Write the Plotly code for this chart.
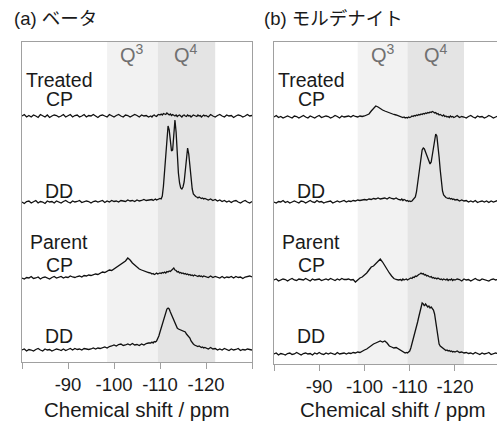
import plotly.graph_objects as go

# ---------------- data ----------------
# chemical-shift sampling grid (ppm): coarse outside the Q4 region, finer inside it
ppm_a = [-80 - 0.5 * i for i in range(56)]     # -80 ... -107.5
ppm_b = [-108 - 0.25 * i for i in range(48)]   # -108 ... -119.75
ppm_c = [-120 - 0.5 * i for i in range(21)]    # -120 ... -130
ppm = ppm_a + ppm_b + ppm_c

tick_values = [-80, -90, -100, -110, -120, -130]
tick_labels = ["", "-90", "-100", "-110", "-120", ""]

q3_range = [-98.5, -109.5]
q4_range = [-109.5, -122.0]

panel_titles = ["(a) ベータ", "(b) モルデナイト"]
trace_names = ["Treated CP", "Treated DD", "Parent CP", "Parent DD"]

# vertical offsets of each spectrum (stacked display units)
offsets_beta = [246, 160, 84, 12]
offsets_mor = [247, 162, 84, 10]

# ----- (a) beta -----
beta_treated_cp = [
    0, 1.5, -1, 0.5, -1, 1, 0, -1.5,
    1.5, 0, -1, 1, -1.5, 0, 1, 0.5,
    -1, 0, 1.5, -1, 0, 1.5, -1, 0.5,
    1, -1, 0, 1.5, -1, 0.5, 0, 1.5,
    0, -1.5, 0.5, 1, 0, -1, 1.5, 0,
    -1, 0.5, 1.5, 0, -1, 1, 0.5, -1,
    0, 1.5, 0.5, -1, 1, 0, 0.5, -1,
    0, -1, 0.5, 1, 0, -0.5, 1, 1.5,
    1, 2, 1, 2.5, 2, 1.5, 3, 2,
    1, 2, 0.5, 1.5, 1, 0, 1, -0.5,
    0.5, 1, 0, -1, 0.5, 1, 0, -0.5,
    1, 0, 0.5, -1, 0, 1, 0.5, 0,
    -0.5, 1, 0, 0.5, -1, 0, 1, 0,
    0.5, -1, 1.5, 0, -1, 0.5, 1.5, 0, -1, 1, 0,
    0.5, -1.5, 0, 1, 0.5, -1, 0, 1.5, 0, 0.5,
]
beta_treated_dd = [
    0, -1.5, 0.5, 1, -1, 0, 1.5, -1,
    0.5, 0, -1.5, 1, 0, 0.5, -1, 1,
    0, -1, 0.5, 1.5, 0, -1, 1, 0,
    0.5, 1.5, -0.5, 0, 1, 0.5, -1, 0.5,
    1, 0, 0.5, 1.5, -0.5, 1, 0, 1.5,
    0.5, 1, 0, 1.5, 1, 0.5, 2, 1,
    1.5, 0.5, 2, 1, 1.5, 2.5, 1.5, 2,
    2, 2.5, 1.5, 2, 3, 2, 2.5, 3,
    3.5, 3, 6, 16, 32, 50, 65, 76,
    72, 62, 51, 52, 72, 82, 70, 48,
    29, 19, 14, 13, 15, 20, 30, 44,
    54, 48, 34, 21, 13, 8, 6, 5.5,
    5, 4, 5, 4.5, 3.5, 4, 3, 3.5,
    3, 2, 3, 1.5, 2.5, 1, 2, 0.5, 1.5, 0, 1,
    -0.5, 1, 1.5, 0, -1, 0.5, 1.5, 0, -1, 0.5,
]
beta_parent_cp = [
    0, -1, 0.5, 0, 1.5, -0.5, 0, 1,
    -1, 0.5, 1, 0, -1, 0.5, 1.5, 0,
    0.5, 1.5, 0, 1, 0.5, 2, 1, 0.5,
    1.5, 2, 1, 2.5, 2, 3, 2.5, 3.5,
    4, 3.5, 5, 6, 5.5, 7, 8, 7.5,
    9, 11, 12, 14, 15, 17, 20, 18,
    15, 13, 11, 9, 8, 7, 6, 5.5,
    5, 4, 4.5, 3.5, 4, 5, 4, 4.5,
    5, 4.5, 5.5, 5, 6, 5, 6.5, 6,
    7, 6.5, 8, 9, 10, 8, 7.5, 6,
    6.5, 5, 5.5, 4.5, 5, 4, 4.5, 3.5,
    4, 3, 3.5, 2.5, 3, 2, 3, 2.5,
    2, 1.5, 2.5, 1.5, 2, 1, 2, 1.5,
    1.5, 0.5, 2, 0.5, 1.5, 1, 0, 1.5, 0, 1, 0.5,
    1.5, 0, 1.5, 0.5, 1, -0.5, 1, 1.5, 2, 1,
]
beta_parent_dd = [
    0, 1, -1, 0.5, 0, -1, 0.5, 1.5,
    0, -1, 1, 0, 0.5, -1, 0, 1,
    0.5, -0.5, 1, -0.5, 0.5, 1.5, 0, 1.5,
    0.5, 1, 0, 1.5, 1, 0.5, 1, 2,
    1, 2, 1.5, 2.5, 3, 2, 3.5, 4,
    5, 4, 5.5, 6, 4.5, 5, 6, 5,
    6.5, 5, 5.5, 4.5, 6, 5, 6.5, 7,
    7, 8, 7, 8.5, 8, 9, 11, 14,
    18, 22, 26, 30, 34, 38, 41, 42,
    41, 38, 35, 33, 30, 27, 24, 22,
    21, 20.5, 20, 20, 19, 18.5, 18, 16,
    14.5, 13, 12, 9, 7, 6, 5, 4.5,
    4, 3.5, 4, 3, 2.5, 3, 2, 2.5,
    2, 1, 2.5, 1, 1.5, 0, 1, 0, 1.5, 0.5, -0.5,
    1, 0, 0.5, 1.5, -0.5, 0.5, 0, 1, 0.5, 0,
]

# ----- (b) mordenite -----
mor_treated_cp = [
    0, 1.5, -0.5, 0.5, -1, 0, 1, 0,
    -1, 1, 0.5, -1, 0, 1.5, 0, -1,
    1, 0, -1, 0.5, 1.5, -0.5, 0, 1,
    0.5, -1, 0, 1.5, 0.5, -1, 1, 0,
    0.5, 1, 0, 1.5, 0.5, 0, 1, 0.5,
    1, 2, 3, 6, 9, 11, 10, 8,
    7, 6, 5, 4, 3.5, 2.5, 2, 1,
    0.5, 0, -0.5, 0, -1, -0.5, -1, 0,
    -0.5, 0, 1, 0.5, 1.5, 1, 2, 1.5,
    2.5, 2, 3, 2.5, 3.5, 3, 4, 3.5,
    4.5, 4, 5, 4.5, 5.5, 5, 4, 4.5,
    3, 3.5, 2, 2.5, 1.5, 1, 2, 0.5,
    1, 0, 0.5, -0.5, 1, 0, 0.5, -0.5,
    0, 1.5, -0.5, 0.5, 0, -1, 0.5, 1.5, 0, -1, 1,
    0, 0.5, -1, 0, 1.5, 0.5, -1, 0, 1, 0,
]
mor_treated_dd = [
    0, -1, 0.5, 0, 1.5, -0.5, 0.5, -1,
    0, 1, 0, -1, 1, 0.5, -1, 0,
    1.5, 0, -0.5, 1.5, 0, 0.5, -1, 0,
    0.5, 1, -1, 0, 1, 0, 0.5, 1.5,
    0, 1, 0.5, 1.5, 1, 2, 1.5, 2,
    2.5, 2, 3, 2.5, 3.5, 3, 4, 3,
    3.5, 4, 3, 4.5, 3.5, 3, 4, 2.5,
    2, 3, 1.5, 2.5, 2, 1, 1.5, 0.5,
    1, 0.5, 1, 2, 3, 5, 10, 19,
    28, 38, 48, 52, 54, 53, 50, 47,
    44, 40, 38, 40, 48, 55, 62, 68,
    66, 58, 45, 32, 20, 11, 7, 5,
    4.5, 4, 3.5, 4, 3, 3.5, 2.5, 3,
    2, 2.5, 1, 2, 1, 1.5, 0, 1, 0, 1.5, -0.5,
    0.5, 1, 0, 1, -0.5, 1, 0, 0.5, 1.5, 0,
]
mor_parent_cp = [
    0, 1, -1, 0, 1, 0.5, -1, 0.5,
    1.5, 0, -0.5, 1, 0.5, 0, 1.5, 0,
    -1, 1, 0, 0.5, 1, -0.5, 0.5, 1,
    0, 1.5, 0.5, -0.5, 1, 0, 1.5, 0.5,
    0.5, 1, 0, 0.5, -2, 0.5, 2, 3,
    5, 7, 10, 13, 14, 16, 19, 21,
    18, 14, 10, 7, 4, 1.5, 0.5, 0,
    0.5, -0.5, 1, 0, 0.5, 1, 0, 1,
    1.5, 2, 1.5, 3, 2.5, 4, 3.5, 5,
    5.5, 6, 7, 6, 6.5, 5, 5.5, 4,
    4.5, 3.5, 3, 3.5, 2, 2.5, 1.5, 2,
    1, 2, 1.5, 0.5, 1, 0, 1, 0.5,
    0, 1, -0.5, 0.5, 0, 1, -0.5, 0.5,
    0, 1, 0.5, -1, 1, 0, 0.5, -1, 0.5, 1.5, 0,
    -0.5, 1, 0.5, 0, -1, 0.5, 1, 0, 0.5, -0.5,
]
mor_parent_dd = [
    0, 1, -1, 0.5, 0, -1, 0.5, 1,
    -0.5, 0, 1.5, 0.5, -1, 0.5, 1, 0,
    0.5, -1, 1, 0, 1.5, 0, -0.5, 1,
    0, 1, 0.5, -0.5, 1.5, 0, 0.5, 1,
    0, 1, 0.5, 1.5, 1, 2, 1.5, 3,
    4, 5, 7, 8, 10, 11, 12, 13,
    12, 13, 11, 8, 7, 6, 6.5, 5,
    4, 3.5, 2.5, 2, 1, 1.5, 1, 2,
    3, 6, 10, 14, 18, 22, 27, 32,
    37, 42, 47, 51, 50, 48, 50, 49,
    47, 48, 46, 47, 46, 44, 40, 33,
    24, 15, 10, 8, 7, 6, 5, 4,
    3.5, 4, 3, 3.5, 2.5, 3, 2, 2.5,
    2, 3, 1.5, 2, 1, 1.5, 0.5, 1, 0, 1.5, 0.5,
    -0.5, 1, 0, 0.5, 1.5, -0.5, 0, 1, 0.5, 0,
]

beta_series = [beta_treated_cp, beta_treated_dd, beta_parent_cp, beta_parent_dd]
mor_series = [mor_treated_cp, mor_treated_dd, mor_parent_cp, mor_parent_dd]

for s in beta_series + mor_series:
    if len(s) != len(ppm):
        raise ValueError(f"length mismatch {len(s)} vs {len(ppm)}")

# ---------------- figure ----------------
W, H = 497, 421
FONT = "Arial, 'Liberation Sans', 'Noto Sans CJK JP', sans-serif"
TXT = "#1a1a1a"
AXC = "#a0a0a0"

fig = go.Figure()

for series, offs, xa, ya in [(beta_series, offsets_beta, "x", "y"),
                             (mor_series, offsets_mor, "x2", "y2")]:
    for name, vals, off in zip(trace_names, series, offs):
        fig.add_trace(go.Scatter(
            x=ppm, y=[off + v for v in vals], mode="lines", name=name,
            line=dict(color="#111111", width=1.3), xaxis=xa, yaxis=ya,
            hoverinfo="skip", showlegend=False))

def px_x(p):
    return p / W

def px_y(p):
    return 1 - p / H

common_x = dict(tickvals=tick_values, ticktext=tick_labels, ticks="outside",
                ticklen=6, tickcolor=AXC, tickwidth=1, showline=True,
                linecolor=AXC, linewidth=1, showgrid=False, zeroline=False,
                tickfont=dict(size=18.5, color=TXT, family=FONT), fixedrange=True)
common_y = dict(showline=True, linecolor=AXC, linewidth=1, showgrid=False,
                zeroline=False, showticklabels=False, ticks="", fixedrange=True)

fig.update_layout(
    width=W, height=H,
    margin=dict(l=0, r=0, t=0, b=0),
    paper_bgcolor="white", plot_bgcolor="rgba(0,0,0,0)",
    font=dict(family=FONT, color=TXT),
    xaxis=dict(domain=[px_x(22), px_x(252)], range=[-80, -130], anchor="y",
               mirror=True, **common_x),
    yaxis=dict(domain=[px_y(362), px_y(42)], range=[0, 320], anchor="x",
               mirror=True, **common_y),
    xaxis2=dict(domain=[px_x(274), 1.0], range=[-80, -129.3], anchor="y2",
                mirror=True, **common_x),
    yaxis2=dict(domain=[px_y(364), px_y(42)], range=[0, 322], anchor="x2",
                mirror=False, **common_y),
)

shapes = []
for xr, yr in [("x", "y domain"), ("x2", "y2 domain")]:
    shapes.append(dict(type="rect", xref=xr, yref=yr, x0=q3_range[0], x1=q3_range[1],
                       y0=0, y1=1, fillcolor="#f2f2f2", line=dict(width=0), layer="below"))
    shapes.append(dict(type="rect", xref=xr, yref=yr, x0=q4_range[0], x1=q4_range[1],
                       y0=0, y1=1, fillcolor="#e4e4e4", line=dict(width=0), layer="below"))
fig.update_layout(shapes=shapes)

ann = []
# panel titles
ann.append(dict(text=panel_titles[0], x=px_x(12), y=px_y(18), xref="paper", yref="paper",
                xanchor="left", yanchor="middle", showarrow=False,
                font=dict(size=18.5, color=TXT, family=FONT)))
ann.append(dict(text=panel_titles[1], x=px_x(262), y=px_y(18), xref="paper", yref="paper",
                xanchor="left", yanchor="middle", showarrow=False,
                font=dict(size=18.5, color=TXT, family=FONT)))
# Q labels
for xr in ["x", "x2"]:
    ann.append(dict(text="Q<sup>3</sup>", x=(q3_range[0] + q3_range[1]) / 2, y=px_y(54),
                    xref=xr, yref="paper", xanchor="center", yanchor="middle",
                    showarrow=False, font=dict(size=20, color="#707070", family=FONT)))
    ann.append(dict(text="Q<sup>4</sup>", x=(q4_range[0] + q4_range[1]) / 2, y=px_y(54),
                    xref=xr, yref="paper", xanchor="center", yanchor="middle",
                    showarrow=False, font=dict(size=20, color="#707070", family=FONT)))
# spectrum labels
label_rows = [("Treated", 80), ("CP", 99), ("DD", 191), ("Parent", 242), ("CP", 265), ("DD", 336)]
for cx in [59, 311]:
    for t, yy in label_rows:
        ann.append(dict(text=t, x=px_x(cx), y=px_y(yy), xref="paper", yref="paper",
                        xanchor="center", yanchor="middle", showarrow=False,
                        font=dict(size=19.5, color=TXT, family=FONT)))
# axis titles
for cx in [137, 393]:
    ann.append(dict(text="Chemical shift / ppm", x=px_x(cx), y=px_y(409), xref="paper",
                    yref="paper", xanchor="center", yanchor="middle", showarrow=False,
                    font=dict(size=20.5, color=TXT, family=FONT)))
fig.update_layout(annotations=ann)

fig.write_html("out.html", config={"displayModeBar": False, "staticPlot": True},
               post_script="document.body.style.margin='0';document.body.style.overflow='hidden';")
